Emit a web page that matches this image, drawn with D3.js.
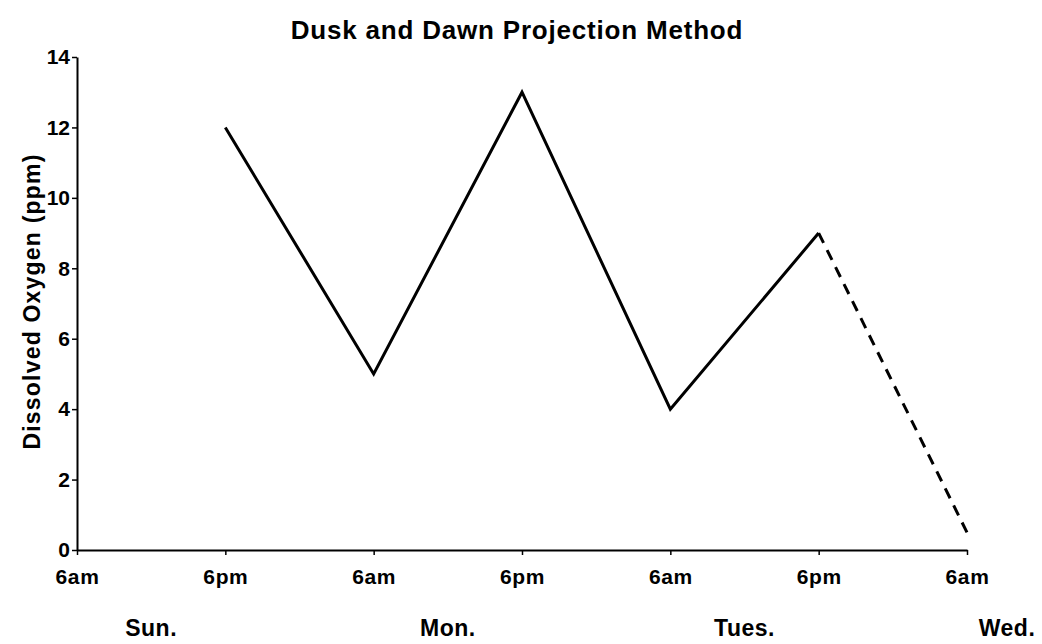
<!DOCTYPE html>
<html>
<head>
<meta charset="utf-8">
<script src="https://cdn.jsdelivr.net/npm/d3@7"></script>
<style>
  html, body { margin: 0; padding: 0; background: #fff; }
  svg { display: block; }
  text { font-family: "Liberation Sans", Arial, sans-serif; font-weight: bold; fill: #000; }
</style>
</head>
<body>
<svg id="chart" width="1042" height="644"></svg>
<script>
// Time axis: 12-hour steps from Sunday 6am to Wednesday 6am
const timeLabels = ["6am", "6pm", "6am", "6pm", "6am", "6pm", "6am"];
// Day names and the time-step position each one sits under
const dayLabels = ["Sun.", "Mon.", "Tues.", "Wed."];
const dayPositions = [0.5, 2.5, 4.5, 6.27];

// Measured dissolved oxygen at dusk / dawn (step index, ppm)
const measuredSteps = [1, 2, 3, 4, 5];
const measuredValues = [12, 5, 13, 4, 9];

// Projected decline from the last dusk reading to the next dawn
const projectedSteps = [5, 6];
const projectedValues = [9, 0.5];

const yTicks = [0, 2, 4, 6, 8, 10, 12, 14];

const width = 1042, height = 644;
const margin = { top: 57, right: 75, bottom: 94, left: 77 };

const svg = d3.select("#chart");

const x = d3.scaleLinear()
  .domain([0, timeLabels.length - 1])
  .range([margin.left, width - margin.right]);

const y = d3.scaleLinear()
  .domain([0, 14])
  .range([height - margin.bottom, margin.top]);

// Axes
const xAxis = d3.axisBottom(x)
  .tickValues(d3.range(timeLabels.length))
  .tickFormat(i => timeLabels[i])
  .tickSize(5)
  .tickSizeOuter(0)
  .tickPadding(14);

const yAxis = d3.axisLeft(y)
  .tickValues(yTicks)
  .tickFormat(d3.format("d"))
  .tickSize(5)
  .tickSizeOuter(0)
  .tickPadding(2);

const gx = svg.append("g")
  .attr("transform", `translate(0,${y(0)})`)
  .call(xAxis);
gx.select(".domain").attr("stroke", "#000").attr("stroke-width", 2);
gx.selectAll(".tick line").attr("stroke", "#000").attr("stroke-width", 1.5);
gx.selectAll(".tick text")
  .attr("font-size", 21)
  .attr("letter-spacing", 0.6)
  .style("font-family", "'Liberation Sans', Arial, sans-serif")
  .style("font-weight", "bold")
  .attr("fill", "#000");

const gy = svg.append("g")
  .attr("transform", `translate(${x(0)},0)`)
  .call(yAxis);
gy.select(".domain").attr("stroke", "#000").attr("stroke-width", 2);
gy.selectAll(".tick line").attr("stroke", "#000").attr("stroke-width", 1.5);
gy.selectAll(".tick text")
  .attr("font-size", 21)
  .style("font-family", "'Liberation Sans', Arial, sans-serif")
  .style("font-weight", "bold")
  .attr("fill", "#000");

// Day names under the time labels
svg.append("g")
  .selectAll("text")
  .data(dayLabels)
  .join("text")
  .attr("x", (d, i) => x(dayPositions[i]))
  .attr("y", 636)
  .attr("text-anchor", "middle")
  .attr("font-size", 23)
  .attr("letter-spacing", 0.5)
  .text(d => d);

// Title
svg.append("text")
  .attr("x", 517)
  .attr("y", 39)
  .attr("text-anchor", "middle")
  .attr("font-size", 26)
  .attr("letter-spacing", 0.8)
  .text("Dusk and Dawn Projection Method");

// Y axis title
svg.append("text")
  .attr("transform", `translate(40,${(y(0) + y(14)) / 2 - 2}) rotate(-90)`)
  .attr("text-anchor", "middle")
  .attr("font-size", 23)
  .attr("letter-spacing", 1.2)
  .text("Dissolved Oxygen (ppm)");

const line = d3.line()
  .x(d => x(d[0]))
  .y(d => y(d[1]))
  .curve(d3.curveLinear);

// Measured series (solid)
svg.append("path")
  .datum(d3.zip(measuredSteps, measuredValues))
  .attr("d", line)
  .attr("fill", "none")
  .attr("stroke", "#000")
  .attr("stroke-width", 3)
  .attr("stroke-linejoin", "miter");

// Projection (dashed)
svg.append("path")
  .datum(d3.zip(projectedSteps, projectedValues))
  .attr("d", line)
  .attr("fill", "none")
  .attr("stroke", "#000")
  .attr("stroke-width", 3)
  .attr("stroke-dasharray", "11,8");
</script>
</body>
</html>
